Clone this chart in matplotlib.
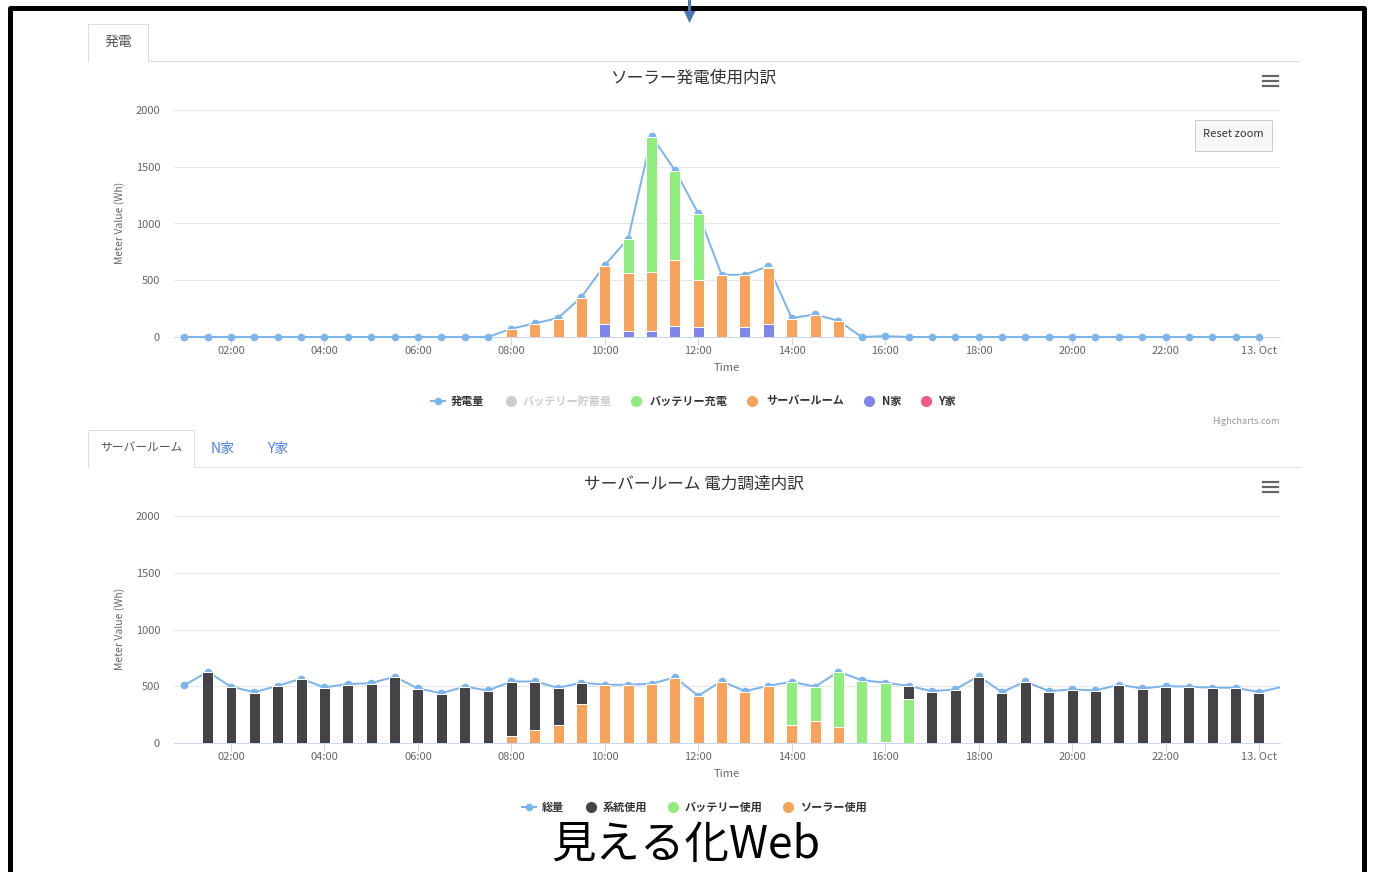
import numpy as np
import matplotlib
matplotlib.use("Agg")
import matplotlib.pyplot as plt
from matplotlib.lines import Line2D
from matplotlib.patches import Polygon, Rectangle

plt.rcParams["font.family"] = ["Noto Sans CJK JP", "DejaVu Sans"]

# ── データ ──────────────────────────────────────────────────────────────
# 上段: ソーラー発電使用内訳 (01:00〜24:00, 30分毎)
gen_hours = np.arange(1.0, 24.01, 0.5)
gen_total = [0, 0, 0, 0, 0, 0, 0, 0, 0, 0, 0, 0, 0, 0,
             73, 120, 167, 352, 634, 865, 1770, 1470, 1089, 548, 548, 625,
             167, 199, 143, 0, 8,
             0, 0, 0, 0, 0, 0, 0, 0, 0, 0, 0, 0, 0, 0, 0, 0]

# 積み上げ棒 (08:00〜15:00)
gen_bar_hours = np.arange(8.0, 15.01, 0.5)
use_y = [0, 0, 0, 0, 0, 0, 0, 0, 0, 0, 0, 0, 0, 0, 0]
use_n = [0, 0, 0, 0, 118, 50, 50, 100, 91, 0, 91, 112, 0, 0, 0]
use_server = [68, 115, 162, 347, 511, 511, 520, 576, 411, 543, 452, 498, 162, 194, 138]
use_charge = [0, 0, 0, 0, 0, 299, 1195, 789, 582, 0, 0, 10, 0, 0, 0]

# 下段: サーバールーム 電力調達内訳
sr_line_hours = np.arange(1.0, 24.51, 0.5)
sr_total = [508, 628, 496, 448, 504, 566, 490, 519, 527, 584, 481,
            439, 496, 463, 542, 542, 487, 531, 513, 513, 522,
            578, 416, 545, 457, 504, 540, 496, 628, 554, 531,
            504, 457, 472, 589, 448, 542, 457, 472, 463, 513,
            481, 501, 496, 487, 487, 448, 495]

sr_bar_hours = np.arange(1.5, 24.01, 0.5)
sr_solar = [0, 0, 0, 0, 0, 0, 0, 0, 0, 0,
            0, 0, 0, 62, 112, 159, 344, 508, 508, 517,
            573, 411, 540, 452, 499, 161, 194, 138, 0, 8,
            0, 0, 0, 0, 0, 0, 0, 0, 0, 0,
            0, 0, 0, 0, 0, 0]
sr_battery = [0, 0, 0, 0, 0, 0, 0, 0, 0, 0,
              0, 0, 0, 0, 0, 0, 0, 0, 0, 0,
              0, 0, 0, 0, 0, 374, 297, 485, 549, 518,
              388, 0, 0, 0, 0, 0, 0, 0, 0, 0,
              0, 0, 0, 0, 0, 0]
sr_grid = [623, 491, 443, 499, 561, 485, 514, 522, 579, 476,
           434, 491, 458, 475, 425, 323, 182, 0, 0, 0,
           0, 0, 0, 0, 0, 0, 0, 0, 0, 0,
           111, 452, 467, 584, 443, 537, 452, 467, 458, 508,
           476, 496, 491, 482, 482, 443]

x_ticks = [2, 4, 6, 8, 10, 12, 14, 16, 18, 20, 22, 24]
x_tick_labels = ["02:00", "04:00", "06:00", "08:00", "10:00", "12:00",
                 "14:00", "16:00", "18:00", "20:00", "22:00", "13. Oct"]
y_ticks = [0, 500, 1000, 1500, 2000]

C_BLUE = "#7cb5ec"
C_DARK = "#434348"
C_GREEN = "#90ed7d"
C_ORANGE = "#f7a35c"
C_PURPLE = "#8085e9"
C_PINK = "#f15c80"

# ── 図の準備 ────────────────────────────────────────────────────────────
W, H = 1373, 872
fig = plt.figure(figsize=(W / 100, H / 100), dpi=100)
fig.patch.set_facecolor("white")
PT = 0.72  # px -> pt


def fx(x):
    return x / W


def fy(y):
    return 1 - y / H


def seg(xs, ys, color, lw_px, **kw):
    fig.add_artist(Line2D([fx(v) for v in xs], [fy(v) for v in ys],
                          transform=fig.transFigure, color=color,
                          lw=lw_px * PT, **kw))


def ftext(x, y, s, **kw):
    fig.text(fx(x), fy(y), s, **kw)


def make_axes(top, bottom):
    ax = fig.add_axes([fx(174), fy(bottom), (1280 - 174) / W, (bottom - top) / H])
    ax.set_xlim(0.78, 24.45)
    ax.set_ylim(0, 2000)
    for s in ["top", "left", "right"]:
        ax.spines[s].set_visible(False)
    ax.spines["bottom"].set_color("#ccd6eb")
    ax.spines["bottom"].set_linewidth(1 * PT)
    ax.spines["bottom"].set_zorder(0.5)
    ax.set_yticks(y_ticks)
    ax.set_yticklabels([str(v) for v in y_ticks])
    ax.set_xticks(x_ticks)
    ax.set_xticklabels(x_tick_labels)
    ax.tick_params(axis="y", length=0, pad=10, labelsize=8, labelcolor="#666666")
    ax.tick_params(axis="x", length=6, width=1 * PT, color="#ccd6eb", pad=0.5,
                   labelsize=8, labelcolor="#666666")
    ax.grid(axis="y", color="#e6e6e6", lw=1 * PT, zorder=0)
    ax.set_axisbelow(True)
    ax.patch.set_alpha(0)
    return ax


def stack_bars(ax, hours, series):
    bottom = np.zeros(len(hours))
    for vals, color in series:
        vals = np.array(vals, dtype=float)
        m = vals > 0
        ax.bar(hours[m], vals[m], bottom=bottom[m], width=0.235, color=color,
               edgecolor="white", linewidth=1 * PT, zorder=3)
        bottom += vals


def legend(y, items):
    for x_sym, x_txt, label, color, kind, tcolor in items:
        if kind == "line":
            seg([x_sym - 7, x_sym + 7], [y, y], color, 2)
            fig.add_artist(Line2D([fx(x_sym)], [fy(y)], marker="o", ms=5.5,
                                  color=color, mew=0, transform=fig.transFigure))
        else:
            fig.add_artist(Line2D([fx(x_sym)], [fy(y)], marker="o", ms=8,
                                  color=color, mew=0, transform=fig.transFigure))
        ftext(x_txt, y, label, fontsize=8, fontweight="bold", color=tcolor,
              ha="left", va="center")


def menu_icon(y):
    for dy in (-5, 0, 5):
        seg([1263, 1278], [y + dy, y + dy], "#666666", 2.2)


# ── 上段チャート ────────────────────────────────────────────────────────
ax1 = make_axes(110, 337)
ax1.plot(gen_hours, gen_total, color=C_BLUE, lw=2 * PT, marker="o", ms=5.5,
         mew=0, zorder=2, clip_on=False)
stack_bars(ax1, gen_bar_hours, [(use_y, C_PINK), (use_n, C_PURPLE),
                                (use_server, C_ORANGE), (use_charge, C_GREEN)])

# ── 下段チャート ────────────────────────────────────────────────────────
ax2 = make_axes(516, 743)
ax2.plot(sr_line_hours, sr_total, color=C_BLUE, lw=2 * PT, marker="o", ms=5.5,
         mew=0, zorder=2, markevery=slice(0, len(sr_total) - 1))
stack_bars(ax2, sr_bar_hours, [(sr_solar, C_ORANGE), (sr_battery, C_GREEN),
                               (sr_grid, C_DARK)])

# 軸ラベル
for top, base in ((110, 337), (516, 743)):
    ftext(727, base + 31, "Time", fontsize=8, color="#666666", ha="center", va="center")
    ftext(120, (top + base) / 2 - 1, "Meter Value (Wh)", fontsize=7.5, color="#666666",
          rotation=90, ha="center", va="center")

# タイトル
ftext(694, 78, "ソーラー発電使用内訳", fontsize=12, color="#333333",
      ha="center", va="center")
ftext(694, 484, "サーバールーム 電力調達内訳", fontsize=12, color="#333333",
      ha="center", va="center")
menu_icon(81)
menu_icon(487)

# Reset zoom ボタン
fig.add_artist(Rectangle((fx(1195), fy(151)), 77 / W, 31 / H, transform=fig.transFigure,
                         facecolor="#f7f7f7", edgecolor="#cccccc", lw=1 * PT))
ftext(1233, 134, "Reset zoom", fontsize=8, color="#333333", ha="center", va="center")
ftext(1280, 421, "Highcharts.com", fontsize=6.5, color="#999999", ha="right", va="center")

# 凡例
legend(401, [
    (438, 451, "発電量", C_BLUE, "line", "#333333"),
    (511, 523, "バッテリー貯蓄量", "#cccccc", "dot", "#cccccc"),
    (636, 650, "バッテリー充電", C_GREEN, "dot", "#333333"),
    (752, 766, "サーバールーム", C_ORANGE, "dot", "#333333"),
    (869, 882, "N家", C_PURPLE, "dot", "#333333"),
    (926, 938, "Y家", C_PINK, "dot", "#333333"),
])
legend(807, [
    (529, 542, "総量", C_BLUE, "line", "#333333"),
    (591, 603, "系統使用", C_DARK, "dot", "#333333"),
    (673, 685, "バッテリー使用", C_GREEN, "dot", "#333333"),
    (788, 801, "ソーラー使用", C_ORANGE, "dot", "#333333"),
])

# タブ
TAB = "#dddddd"
seg([88, 88, 148, 148], [61, 24, 24, 61], TAB, 1)
seg([148, 1300], [61, 61], TAB, 1)
ftext(118, 42, "発電", fontsize=10, color="#555555", ha="center", va="center")

seg([88, 88, 194, 194], [467, 430, 430, 467], TAB, 1)
seg([194, 1300], [467, 467], TAB, 1)
ftext(141, 448, "サーバールーム", fontsize=8.5, color="#555555", ha="center", va="center")
ftext(223, 449, "N家", fontsize=10, color="#4f7fe6", ha="center", va="center")
ftext(278, 449, "Y家", fontsize=10, color="#4f7fe6", ha="center", va="center")

# 外枠と矢印
seg([9.5, 9.5, 1364, 1364], [872, 8.5, 8.5, 872], "black", 5, solid_joinstyle="round")
seg([689.5, 689.5], [0, 10], "#4a78b8", 3)
fig.add_artist(Polygon([(fx(682.5), fy(8)), (fx(697), fy(8)), (fx(689.5), fy(23))],
                       closed=True, transform=fig.transFigure,
                       facecolor="#4a78b8", edgecolor="none"))

ftext(686, 845, "見える化Web", fontsize=32, color="black", ha="center", va="center")

fig.savefig("out.png", dpi=100, facecolor="white")
